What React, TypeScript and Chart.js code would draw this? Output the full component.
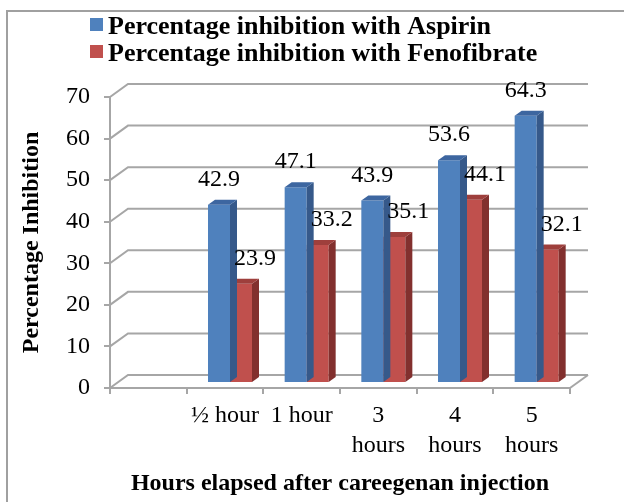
import React, { useEffect, useRef } from 'react';
import { Chart, registerables } from 'chart.js';

Chart.register(...registerables);

// ---- data ----
const categories: (string | string[])[] = ['', '½ hour', '1 hour', ['3', 'hours'], ['4', 'hours'], ['5', 'hours']];
const aspirin: (number | null)[] = [null, 42.9, 47.1, 43.9, 53.6, 64.3];
const fenofibrate: (number | null)[] = [null, 23.9, 33.2, 35.1, 44.1, 32.1];
const seriesNames = ['Percentage inhibition with Aspirin', 'Percentage inhibition with Fenofibrate'];
const yMin = 0;
const yMax = 70;
const yStep = 10;
const xTitle = 'Hours elapsed after careegenan injection';
const yTitle = 'Percentage Inhibition';

// ---- styles ----
const FONT = '"Liberation Serif", "Times New Roman", serif';
const FRONT = ['#4F81BD', '#C0504D'];
const SIDE = ['#36598A', '#82302E'];
const TOP = ['#3D66A0', '#9E3F3C'];
const GRID = '#A6A6A6';
const WALL_DX = 18;
const WALL_DY = -13;
const SHIFT_X = 5;
const SHIFT_Y = -5;
const BAR_DX = 7;
const BAR_DY = -5;
const LABEL_OFFSET_X = [0, 14];
const LABEL_OFFSET_Y = 25;

const threeD = {
  id: 'threeD',
  beforeDraw(chart: any) {
    const ctx = chart.ctx;
    ctx.save();
    ctx.fillStyle = '#ffffff';
    ctx.fillRect(0, 0, chart.width, chart.height);
    ctx.strokeStyle = '#A0A0A0';
    ctx.lineWidth = 2;
    ctx.strokeRect(7, 11, chart.width + 40, chart.height + 40);
    ctx.restore();
  },
  beforeDatasetsDraw(chart: any) {
    const ctx = chart.ctx;
    const a = chart.chartArea;
    const y = chart.scales.y;
    ctx.save();
    ctx.strokeStyle = GRID;
    ctx.lineWidth = 2;
    y.ticks.forEach((t: any) => {
      const py = y.getPixelForValue(t.value);
      ctx.beginPath();
      ctx.moveTo(a.left, py);
      ctx.lineTo(a.left + WALL_DX, py + WALL_DY);
      ctx.lineTo(a.right + WALL_DX, py + WALL_DY);
      ctx.stroke();
    });
    ctx.beginPath();
    ctx.moveTo(a.right, a.bottom);
    ctx.lineTo(a.right + WALL_DX, a.bottom + WALL_DY);
    ctx.stroke();
    ctx.restore();
    ctx.save();
    ctx.translate(SHIFT_X, SHIFT_Y);
  },
  afterDatasetDraw(chart: any, args: any) {
    const ctx = chart.ctx;
    const i = args.index;
    const meta = args.meta;
    ctx.save();
    meta.data.forEach((bar: any, j: number) => {
      const v = chart.data.datasets[i].data[j];
      if (v === null || v === undefined) return;
      const p = bar.getProps(['x', 'y', 'base', 'width'], true);
      const l = p.x - p.width / 2;
      const r = p.x + p.width / 2;
      const t = p.y;
      const b = p.base;
      ctx.fillStyle = SIDE[i];
      ctx.beginPath();
      ctx.moveTo(r, t);
      ctx.lineTo(r + BAR_DX, t + BAR_DY);
      ctx.lineTo(r + BAR_DX, b + BAR_DY);
      ctx.lineTo(r, b);
      ctx.closePath();
      ctx.fill();
      ctx.fillStyle = TOP[i];
      ctx.beginPath();
      ctx.moveTo(l, t);
      ctx.lineTo(l + BAR_DX, t + BAR_DY);
      ctx.lineTo(r + BAR_DX, t + BAR_DY);
      ctx.lineTo(r, t);
      ctx.closePath();
      ctx.fill();
    });
    ctx.restore();
  },
  afterDatasetsDraw(chart: any) {
    const ctx = chart.ctx;
    ctx.save();
    ctx.fillStyle = '#000';
    ctx.font = `24px ${FONT}`;
    ctx.textAlign = 'center';
    ctx.textBaseline = 'middle';
    chart.data.datasets.forEach((ds: any, i: number) => {
      const meta = chart.getDatasetMeta(i);
      meta.data.forEach((bar: any, j: number) => {
        const v = ds.data[j];
        if (v === null || v === undefined) return;
        const p = bar.getProps(['x', 'y'], true);
        ctx.fillText(Number(v).toFixed(1), p.x + LABEL_OFFSET_X[i], p.y - LABEL_OFFSET_Y);
      });
    });
    ctx.restore();
    ctx.restore(); // undo translate
  },
  afterDraw(chart: any) {
    const ctx = chart.ctx;
    ctx.save();
    ctx.font = `bold 26px ${FONT}`;
    ctx.textAlign = 'left';
    ctx.textBaseline = 'alphabetic';
    seriesNames.forEach((name, i) => {
      const baseY = 34 + i * 27;
      ctx.fillStyle = FRONT[i];
      ctx.fillRect(90, baseY - 16, 13, 13);
      ctx.fillStyle = '#000';
      ctx.fillText(name, 108, baseY);
    });
    ctx.restore();
  },
};

export default function App() {
  const ref = useRef<HTMLCanvasElement | null>(null);
  useEffect(() => {
    if (!ref.current) return;
    const chart = new Chart(ref.current, {
      type: 'bar',
      data: {
        labels: categories as any,
        datasets: [
          { label: seriesNames[0], data: aspirin, backgroundColor: FRONT[0], borderWidth: 0 },
          { label: seriesNames[1], data: fenofibrate, backgroundColor: FRONT[1], borderWidth: 0 },
        ],
      },
      options: {
        responsive: false,
        animation: false,
        events: [],
        layout: { padding: { left: 0, right: 54, top: 97, bottom: 0 } },
        plugins: {
          legend: { display: false },
          tooltip: { enabled: false },
        },
        datasets: {
          bar: { categoryPercentage: 0.574, barPercentage: 1 },
        },
        scales: {
          x: {
            offset: true,
            grid: { display: true, drawOnChartArea: false, drawTicks: true, tickLength: 6, color: GRID, lineWidth: 2, offset: true },
            border: { display: true, color: GRID, width: 2 },
            ticks: {
              autoSkip: false,
              maxRotation: 0,
              minRotation: 0,
              padding: 7,
              color: '#000',
              font: { family: FONT, size: 24, lineHeight: 1.25 },
            },
            title: {
              display: true,
              text: xTitle,
              color: '#000',
              font: { family: FONT, size: 24, weight: 'bold' },
              padding: { top: 0, bottom: 4 },
            },
            afterFit(scale: any) {
              scale.height = 114;
            },
          },
          y: {
            min: yMin,
            max: yMax,
            ticks: {
              stepSize: yStep,
              padding: 14,
              color: '#000',
              font: { family: FONT, size: 24 },
            },
            grid: { display: true, drawOnChartArea: false, drawTicks: true, tickLength: 6, color: GRID, lineWidth: 2 },
            border: { display: true, color: GRID, width: 2 },
            title: {
              display: true,
              text: yTitle,
              color: '#000',
              font: { family: FONT, size: 24, weight: 'bold' },
              padding: { top: 17, bottom: 0 },
            },
            afterFit(scale: any) {
              scale.width = 110;
            },
          },
        },
      },
      plugins: [threeD],
    });
    return () => chart.destroy();
  }, []);
  return (
    <div style={{ position: 'fixed', left: 0, top: 0, width: 624, height: 502, overflow: 'hidden' }}>
      <canvas ref={ref} width={624} height={502} style={{ display: 'block' }} />
    </div>
  );
}
